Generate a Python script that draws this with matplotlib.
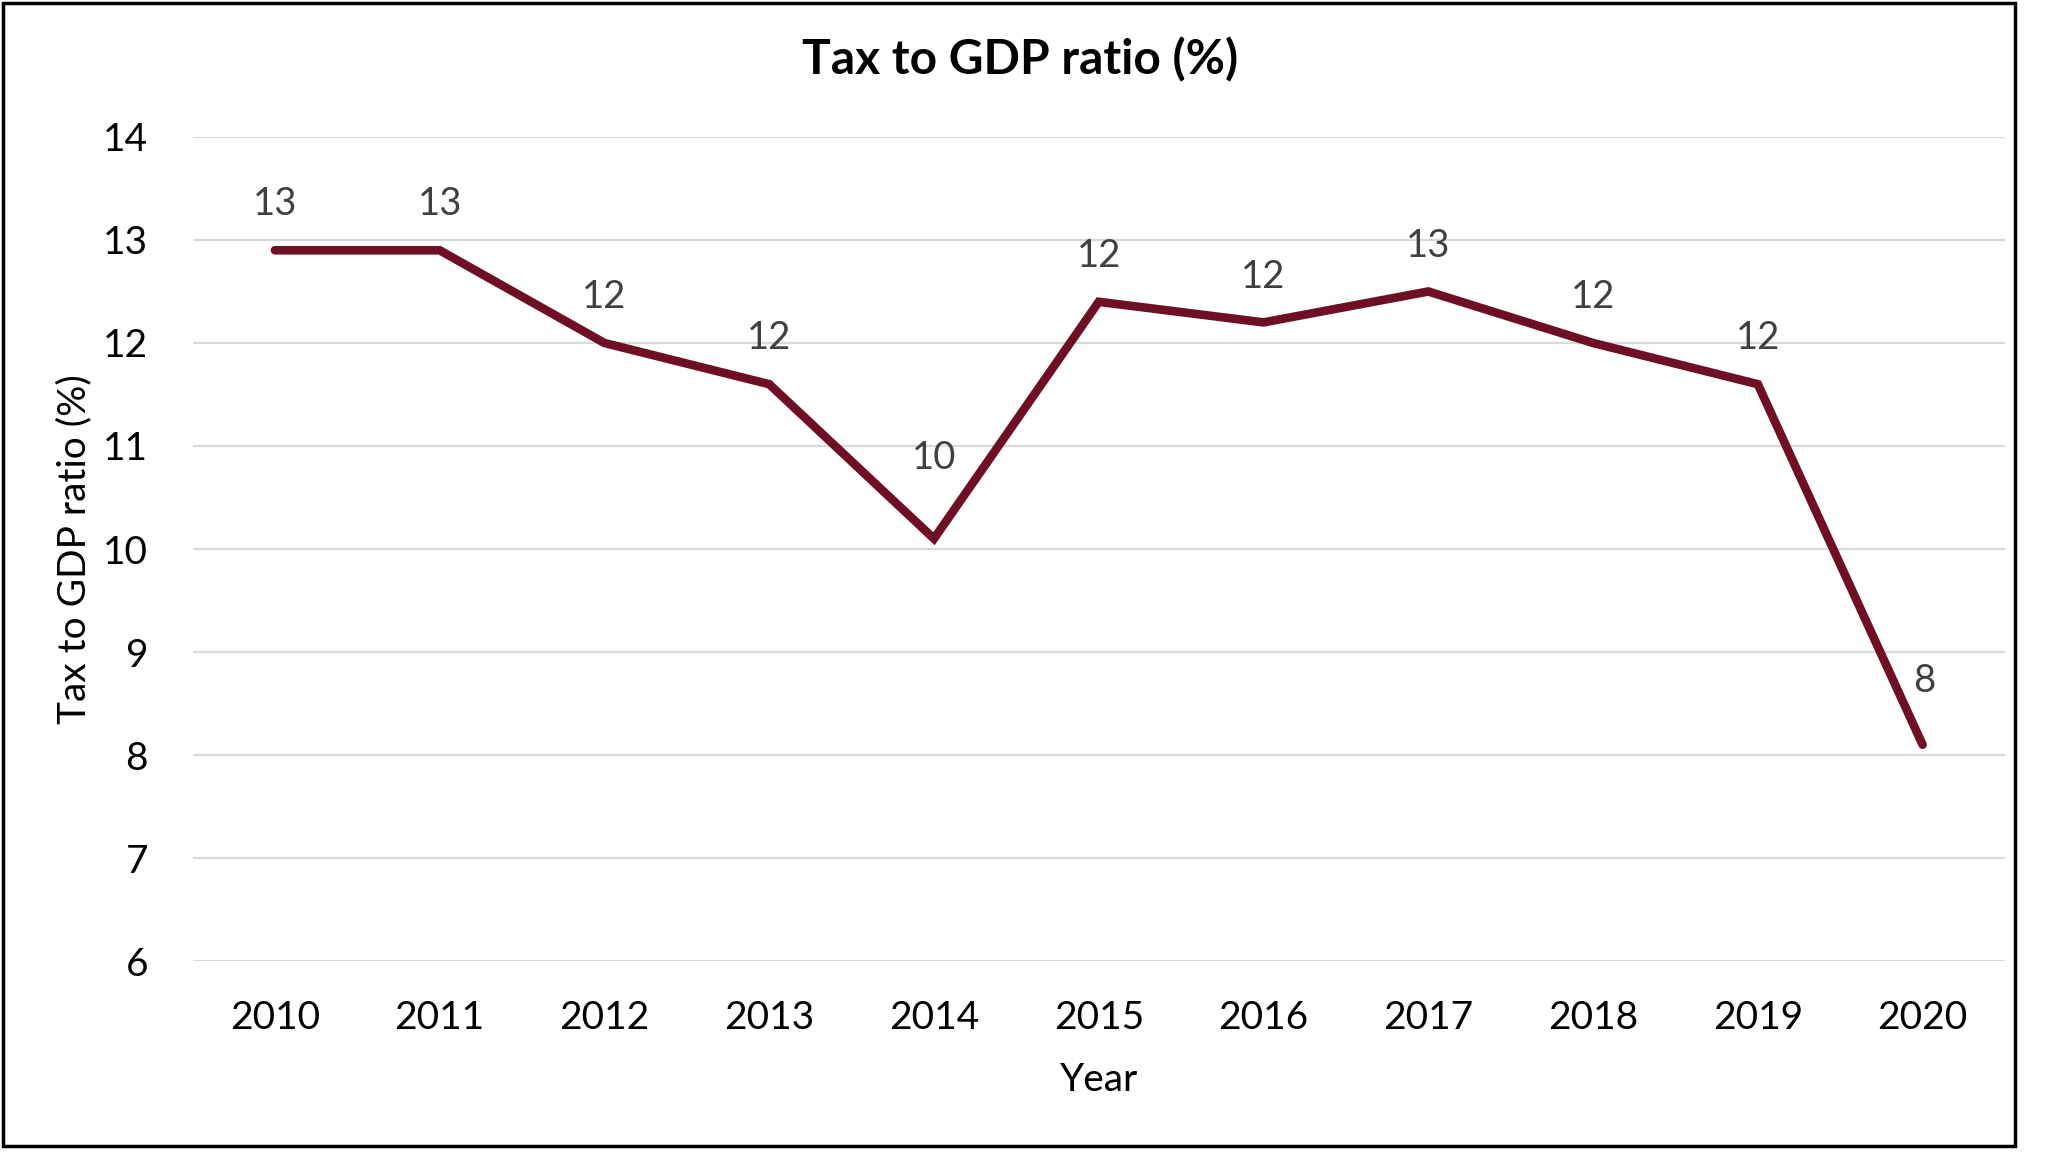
import matplotlib
matplotlib.use('Agg')
import matplotlib.pyplot as plt
from matplotlib.patches import Rectangle

plt.rcParams['font.family'] = ['Lato', 'DejaVu Sans']

# data
years = ['2010', '2011', '2012', '2013', '2014', '2015', '2016', '2017', '2018', '2019', '2020']
tax_gdp = [12.9, 12.9, 12.0, 11.6, 10.1, 12.4, 12.2, 12.5, 12.0, 11.6, 8.1]
y_ticks = [6, 7, 8, 9, 10, 11, 12, 13, 14]

line_col = '#6E0F26'
grid_col = '#D9D9D9'

# a couple of data labels were nudged by hand in the original
label_nudge = {'2014': (0, 58), '2020': (1, 46)}

fig = plt.figure(figsize=(20.48, 11.53), dpi=100)
ax = fig.add_axes([0.094, 0.1665, 0.885, 0.7147])

x = list(range(len(years)))
ax.plot(x, tax_gdp, color=line_col, linewidth=6.2, solid_capstyle='round', solid_joinstyle='miter', zorder=3)

for xi, yr, v in zip(x, years, tax_gdp):
    off = label_nudge.get(yr, (0, 33))
    ax.annotate(str(int(v + 0.5)), (xi, v), xytext=off, textcoords='offset points',
                ha='center', va='center', fontsize=27.5, color='#404040')

ax.set_xlim(-0.5, len(years) - 0.5)
ax.set_ylim(6, 14)
ax.set_yticks(y_ticks)
ax.set_xticks(x)
ax.set_xticklabels(years)
ax.tick_params(axis='both', length=0, labelsize=28, colors='black')
ax.tick_params(axis='x', pad=28)
ax.tick_params(axis='y', pad=32)
ax.grid(axis='y', color=grid_col, linewidth=1.6, zorder=0)
for s in ax.spines.values():
    s.set_visible(False)

ax.set_xlabel('Year', fontsize=28, labelpad=19)
ax.set_ylabel('Tax to GDP ratio (%)', fontsize=28, labelpad=8)

fig.text(0.498, 0.948, 'Tax to GDP ratio (%)', ha='center', va='center',
         fontsize=34.5, fontweight='bold')

# black frame round the chart
fig.patches.append(Rectangle((0.0015, 0.0065), 0.9825, 0.9905, transform=fig.transFigure,
                             fill=False, edgecolor='black', linewidth=2.5))

plt.savefig('out.png', dpi=100)
